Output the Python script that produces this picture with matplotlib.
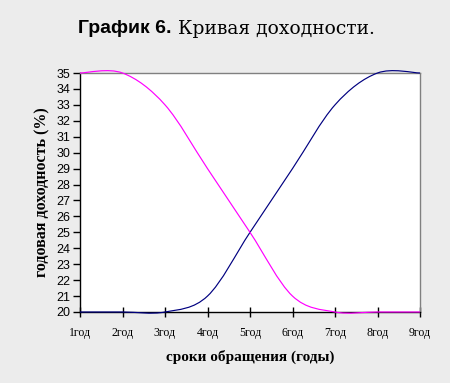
import numpy as np
import matplotlib
matplotlib.use("Agg")
import matplotlib.pyplot as plt
from matplotlib.path import Path
from matplotlib.patches import PathPatch

# data
years = ["1год", "2год", "3год", "4год", "5год", "6год", "7год", "8год", "9год"]
rising = [20, 20, 20, 21, 25, 29, 33, 35, 35]
falling = [35, 35, 33, 29, 25, 21, 20, 20, 20]

yticks = list(range(20, 36))


def smooth_line(ax, ys, color):
    # excel-like smoothed line: cubic bezier through the points
    xs = np.arange(len(ys), dtype=float)
    ys = np.asarray(ys, dtype=float)
    px = np.concatenate([[xs[0]], xs, [xs[-1]]])
    py = np.concatenate([[ys[0]], ys, [ys[-1]]])
    verts = [(xs[0], ys[0])]
    codes = [Path.MOVETO]
    for i in range(1, len(xs)):
        j = i + 1  # index into padded arrays for xs[i]
        c1 = (px[j - 1] + (px[j] - px[j - 2]) / 6, py[j - 1] + (py[j] - py[j - 2]) / 6)
        c2 = (px[j] - (px[j + 1] - px[j - 1]) / 6, py[j] - (py[j + 1] - py[j - 1]) / 6)
        verts += [c1, c2, (xs[i], ys[i])]
        codes += [Path.CURVE4] * 3
    patch = PathPatch(Path(verts, codes), facecolor="none", edgecolor=color,
                      lw=0.85, clip_on=False, zorder=3)
    ax.add_patch(patch)


fig = plt.figure(figsize=(4.5, 3.83), dpi=100)
fig.patch.set_facecolor("#ECECEC")
ax = fig.add_axes([80 / 450, 1 - 312 / 383, 340 / 450, 239 / 383])
ax.set_facecolor("white")

smooth_line(ax, rising, "#000080")
smooth_line(ax, falling, "#FF00FF")

ax.set_xlim(0, len(years) - 1)
ax.set_ylim(20, 35)
ax.set_xticks(range(len(years)))
ax.set_xticklabels(years, fontfamily="Liberation Serif", fontsize=8.5)
ax.set_yticks(yticks)
ax.set_yticklabels([str(v) for v in yticks], fontfamily="Liberation Sans", fontsize=9)
ax.tick_params(axis="x", direction="inout", length=7, width=1, pad=7)
ax.tick_params(axis="y", direction="out", length=5, width=1, pad=2)

for s in ["left", "bottom"]:
    ax.spines[s].set_color("black")
    ax.spines[s].set_linewidth(1)
for s in ["top", "right"]:
    ax.spines[s].set_color("#808080")
    ax.spines[s].set_linewidth(1)

ax.set_xlabel("сроки обращения (годы)", fontfamily="Liberation Serif",
              fontweight="bold", fontsize=11, labelpad=8)
ax.set_ylabel("годовая доходность (%)", fontfamily="Liberation Serif",
              fontweight="bold", fontsize=11.5, labelpad=4)

fig.text(0.173, 0.925, "График 6.", fontfamily="Liberation Sans",
         fontweight="bold", fontsize=14, va="center", ha="left")
fig.text(0.395, 0.925, "Кривая доходности.", fontfamily="DejaVu Serif",
         fontsize=13.5, va="center", ha="left")

fig.savefig("out.png", dpi=100, facecolor=fig.get_facecolor())
